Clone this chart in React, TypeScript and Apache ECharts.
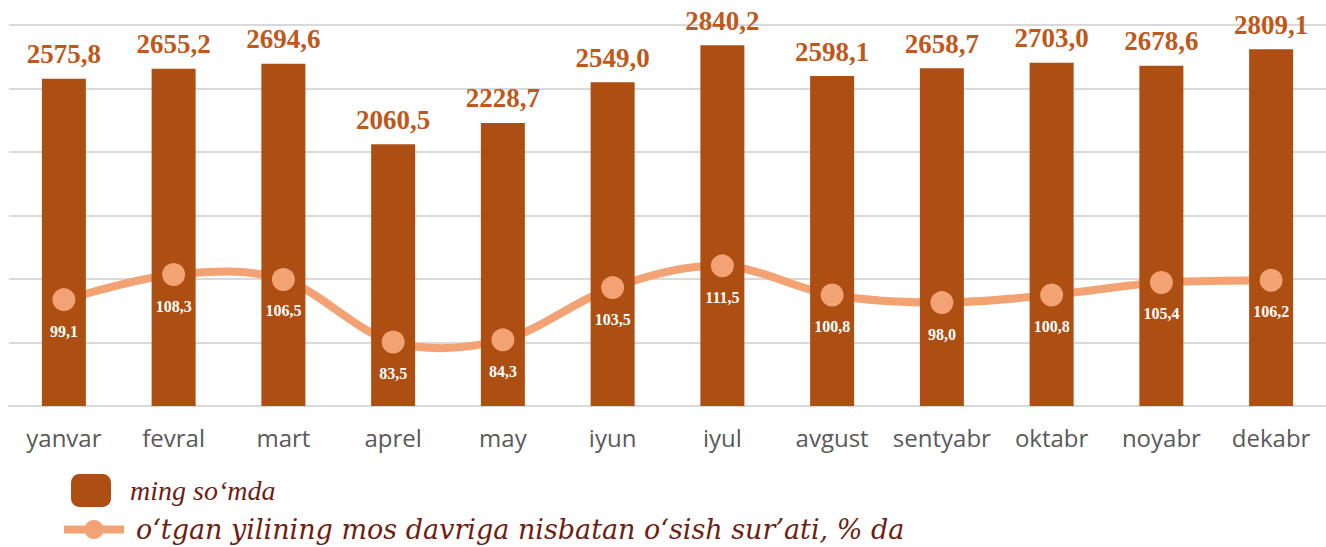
import React, { useEffect, useRef } from "react";
import * as echarts from "echarts";

const months = ["yanvar", "fevral", "mart", "aprel", "may", "iyun", "iyul", "avgust", "sentyabr", "oktabr", "noyabr", "dekabr"];
const barValues = [2575.8, 2655.2, 2694.6, 2060.5, 2228.7, 2549.0, 2840.2, 2598.1, 2658.7, 2703.0, 2678.6, 2809.1];
const lineValues = [99.1, 108.3, 106.5, 83.5, 84.3, 103.5, 111.5, 100.8, 98.0, 100.8, 105.4, 106.2];
const barName = "ming so‘mda";
const lineName = "o‘tgan yilining mos davriga nisbatan o‘sish sur’ati, % da";

const BAR_COLOR = "#AD4E12";
const LINE_COLOR = "#F2A273";

const fmt = (v: number) => v.toFixed(1).replace(".", ",");

export default function App() {
  const ref = useRef<HTMLDivElement>(null);
  useEffect(() => {
    if (!ref.current) return;
    const chart = echarts.init(ref.current, null, { renderer: "svg" });
    const n = lineValues.length;
    chart.setOption({
      animation: false,
      backgroundColor: "#ffffff",
      grid: { left: 9, top: 25, width: 1321, height: 381, containLabel: false },
      legend: [
        {
          data: [barName],
          left: 71,
          top: 474,
          padding: 0,
          itemWidth: 40,
          itemHeight: 33,
          itemStyle: { borderRadius: 4 },
          textStyle: {
            fontFamily: "Liberation Serif",
            fontStyle: "italic",
            fontSize: 28,
            color: "#6F1E14",
            padding: [0, 0, 0, 14],
          },
        },
        {
          data: [lineName],
          left: 60,
          top: 516,
          padding: 0,
          itemWidth: 60,
          itemHeight: 24,
          lineStyle: { color: LINE_COLOR, width: 8, opacity: 1 },
          textStyle: {
            fontFamily: "DejaVu Serif",
            fontStyle: "italic",
            fontSize: 27,
            color: "#6F1E14",
            padding: [0, 0, 0, 7],
          },
        },
      ],
      xAxis: {
        type: "category",
        data: months,
        axisTick: { show: false },
        axisLine: { lineStyle: { color: "#D9D9D9", width: 2 } },
        axisLabel: { interval: 0, fontFamily: "Open Sans", fontSize: 24, color: "#595959", margin: 19 },
      },
      yAxis: [
        {
          type: "value",
          min: 0,
          max: 3000,
          interval: 500,
          axisLabel: { show: false },
          axisLine: { show: false },
          axisTick: { show: false },
          splitLine: { lineStyle: { color: "#D9D9D9", width: 2 } },
        },
        {
          type: "value",
          min: 60,
          max: 200,
          axisLabel: { show: false },
          axisLine: { show: false },
          axisTick: { show: false },
          splitLine: { show: false },
        },
      ],
      series: [
        {
          name: barName,
          type: "bar",
          data: barValues,
          barWidth: 44,
          itemStyle: { color: BAR_COLOR },
          label: {
            show: true,
            position: "top",
            distance: 11,
            formatter: (p: any) => fmt(p.value),
            fontFamily: "Liberation Serif",
            fontWeight: "bold",
            fontSize: 27,
            color: "#C0581A",
          },
        },
        {
          type: "custom",
          yAxisIndex: 1,
          data: lineValues.map((v, i) => [i, v]),
          z: 2,
          silent: true,
          renderItem: (params: any, api: any) => {
            const i = params.dataIndex;
            if (i >= n - 1) return null;
            const pt = (k: number) => {
              const kk = Math.max(0, Math.min(n - 1, k));
              return api.coord([kk, lineValues[kk]]);
            };
            const p0 = pt(i - 1);
            const p1 = pt(i);
            const p2 = pt(i + 1);
            const p3 = pt(i + 2);
            const t = 1 / 6;
            return {
              type: "bezierCurve",
              shape: {
                x1: p1[0],
                y1: p1[1],
                x2: p2[0],
                y2: p2[1],
                cpx1: p1[0] + (p2[0] - p0[0]) * t,
                cpy1: p1[1] + (p2[1] - p0[1]) * t,
                cpx2: p2[0] - (p3[0] - p1[0]) * t,
                cpy2: p2[1] - (p3[1] - p1[1]) * t,
              },
              style: { stroke: LINE_COLOR, lineWidth: 8, fill: "none", lineCap: "round" },
            };
          },
        },
        {
          name: lineName,
          type: "line",
          yAxisIndex: 1,
          data: lineValues,
          symbol: "circle",
          symbolSize: 23,
          lineStyle: { color: LINE_COLOR, width: 8, opacity: 0 },
          itemStyle: { color: LINE_COLOR },
          label: {
            show: true,
            position: "bottom",
            distance: 12,
            formatter: (p: any) => fmt(p.value),
            fontFamily: "Liberation Serif",
            fontWeight: "bold",
            fontSize: 16,
            color: "#ffffff",
          },
          z: 3,
        },
      ],
    });
    return () => chart.dispose();
  }, []);
  return <div ref={ref} style={{ position: "absolute", left: 0, top: 0, width: 1326, height: 547 }} />;
}
